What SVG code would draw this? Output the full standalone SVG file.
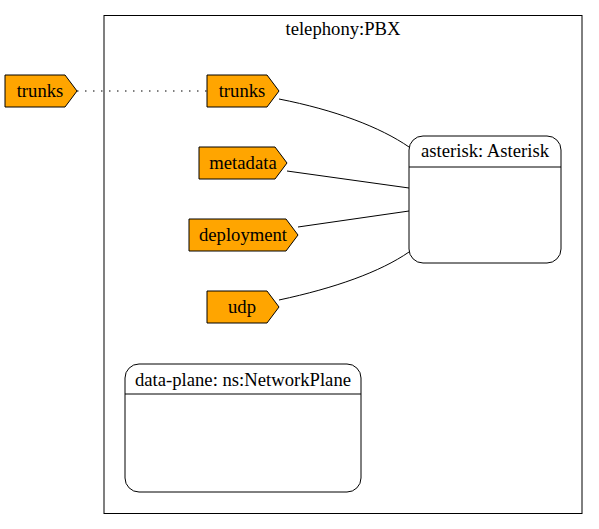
<svg xmlns="http://www.w3.org/2000/svg" width="599" height="529" viewBox="0 0 599 529">
<style>
.t{font-family:'Liberation Serif','Times New Roman',serif;font-size:18.67px;fill:#000;text-anchor:middle}
.port{fill:#ffa500;stroke:#000;stroke-width:1}
.comp{fill:#fff;stroke:#000;stroke-width:1}
.edge{fill:none;stroke:#000;stroke-width:1}
</style>
<rect width="599" height="529" fill="#fff"/>
<g id="cluster_pbx">
<rect x="104" y="15.5" width="478" height="498" fill="none" stroke="#000"/>
<text class="t" x="343" y="35">telephony:PBX</text>
</g>
<g id="connectors">
<path class="edge" d="M77,91 L207,91" stroke-dasharray="1.5,6.5"/>
<path class="edge" d="M279,99 C335,110 380,127 409,147"/>
<path class="edge" d="M287,171 L409,188"/>
<path class="edge" d="M298,227 L409,211"/>
<path class="edge" d="M279,300 C335,288 380,272 409,252"/>
</g>
<g id="trunks_ext">
<polygon class="port" points="5,75 65,75 77,91 65,107 5,107"/>
<text class="t" x="40" y="97">trunks</text>
</g>
<g id="trunks">
<polygon class="port" points="207,75 267,75 279,91 267,107 207,107"/>
<text class="t" x="242" y="97">trunks</text>
</g>
<g id="metadata">
<polygon class="port" points="199,147 275,147 287,163 275,179 199,179"/>
<text class="t" x="243" y="169">metadata</text>
</g>
<g id="deployment">
<polygon class="port" points="189,219 286,219 298,235 286,251 189,251"/>
<text class="t" x="243" y="241">deployment</text>
</g>
<g id="udp">
<polygon class="port" points="207,291 267,291 279,307 267,323 207,323"/>
<text class="t" x="242" y="313">udp</text>
</g>
<g id="asterisk">
<rect class="comp" x="409" y="136" width="152" height="127" rx="14" ry="14"/>
<line class="edge" x1="409" y1="167" x2="561" y2="167"/>
<text class="t" x="485" y="157">asterisk: Asterisk</text>
</g>
<g id="data_plane">
<rect class="comp" x="125" y="364" width="236" height="128" rx="14" ry="14"/>
<line class="edge" x1="125" y1="394" x2="361" y2="394"/>
<text class="t" x="243" y="386">data-plane: ns:NetworkPlane</text>
</g>
</svg>
